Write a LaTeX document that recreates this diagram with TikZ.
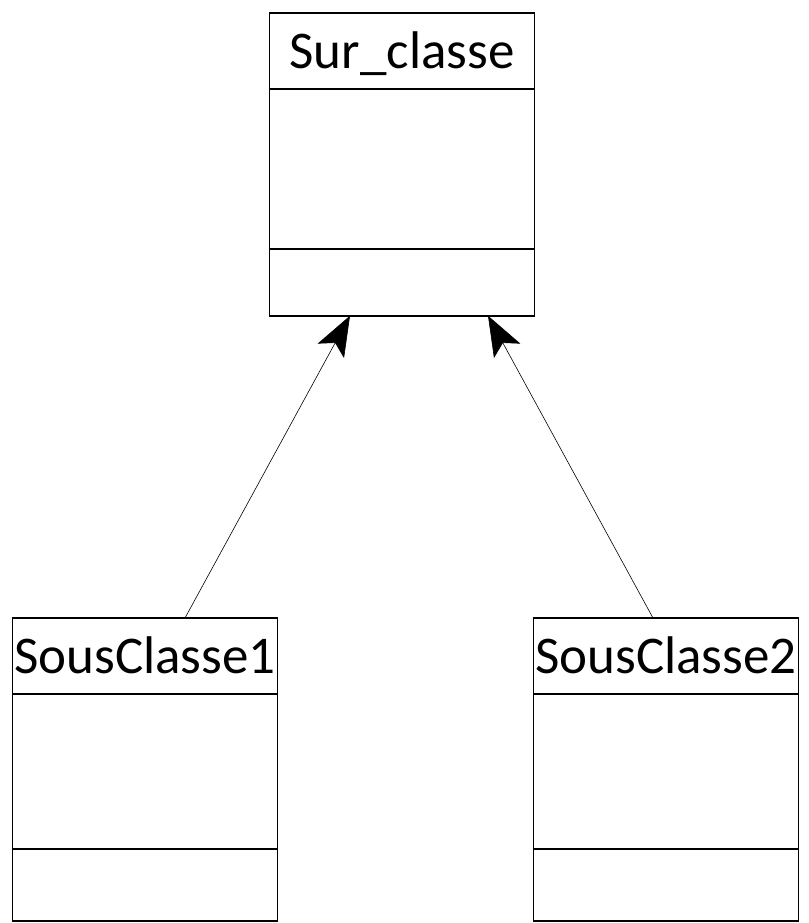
\documentclass[tikz,border=0pt]{standalone}
\usepackage{fontspec}
\setmainfont{Carlito}
\usetikzlibrary{positioning,arrows.meta}

\tikzset{
  classhead/.style={draw, line width=1.6pt, outer sep=0pt, inner sep=0pt,
    minimum width=265pt, minimum height=76pt, text depth=2pt,
    font=\fontsize{53}{60}\selectfont},
  classbody/.style={draw, line width=1.6pt, outer sep=0pt, inner sep=0pt,
    minimum width=265pt},
  inherit/.style={line width=0.6pt, -{Stealth[length=40pt,width=30pt,inset=9pt]}}
}

\begin{document}
\begin{tikzpicture}
            \useasboundingbox (0pt,0pt) rectangle (808pt,-923pt);

            \node[classhead]                                   (surh) at (402pt,-51.3pt) {Sur\_classe};
            \node[classbody, minimum height=159.4pt, below=0pt of surh] (sura) {};
            \node[classbody, minimum height=67pt, below=0pt of sura]    (suro) {};

            \node[classhead]                                   (sc1h) at (145pt,-656pt) {SousClasse1};
            \node[classbody, minimum height=154.7pt, below=0pt of sc1h] (sc1a) {};
            \node[classbody, minimum height=72pt, below=0pt of sc1a]    (sc1o) {};

            \node[classhead]                                   (sc2h) at (666pt,-656pt) {SousClasse2};
            \node[classbody, minimum height=154.7pt, below=0pt of sc2h] (sc2a) {};
            \node[classbody, minimum height=72pt, below=0pt of sc2a]    (sc2o) {};

            \draw[inherit] ([xshift=40pt]sc1h.north) -- ([xshift=-52pt]suro.south);
            \draw[inherit] ([xshift=-13pt]sc2h.north) -- ([xshift=86pt]suro.south);
        \end{tikzpicture}
\end{document}
